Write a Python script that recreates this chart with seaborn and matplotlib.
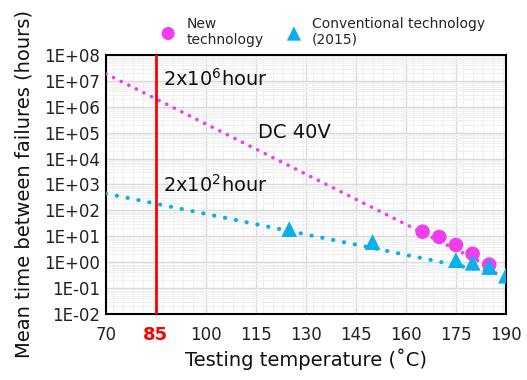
import numpy as np
import pandas as pd
import matplotlib
matplotlib.use('Agg')
import matplotlib.pyplot as plt
import seaborn as sns
from matplotlib.ticker import MultipleLocator, LogLocator, FixedLocator, NullFormatter

# data
new_temp = [165, 170, 175, 180, 185]
new_mtbf = [15, 9.4, 4.6, 2.1, 0.8]
conv_temp = [125, 150, 175, 180, 185, 190]
conv_mtbf = [19, 6.0, 1.2, 0.95, 0.65, 0.3]

# trend line end points
new_trend_x = [70, 186]
new_trend_y = [1.9e7, 0.6]
conv_trend_x = [70, 190.5]
conv_trend_y = [450, 0.3]

x_ticks = [70, 85, 100, 115, 130, 145, 160, 175, 190]
y_ticks = [1e-2, 1e-1, 1e0, 1e1, 1e2, 1e3, 1e4, 1e5, 1e6, 1e7, 1e8]
y_labels = ['1E-02', '1E-01', '1E+00', '1E+01', '1E+02', '1E+03',
            '1E+04', '1E+05', '1E+06', '1E+07', '1E+08']

magenta = '#f23cf0'
blue = '#0ab0ea'

sns.set_theme(style='white')
plt.rcParams['font.family'] = ['DejaVu Sans']

fig = plt.figure(figsize=(5.27, 3.8), dpi=100)
ax = fig.add_axes([0.201, 0.174, 0.759, 0.681])

df_new = pd.DataFrame({'temp': new_temp, 'mtbf': new_mtbf})
df_conv = pd.DataFrame({'temp': conv_temp, 'mtbf': conv_mtbf})

ax.plot(new_trend_x, new_trend_y, color=magenta, lw=2.6, ls=(0, (0.05, 2.3)),
        dash_capstyle='round', zorder=3)
ax.plot(conv_trend_x, conv_trend_y, color=blue, lw=3.0, ls=(0, (0.05, 2.6)),
        dash_capstyle='round', zorder=3)

sns.scatterplot(data=df_new, x='temp', y='mtbf', ax=ax, color=magenta, marker='o',
                s=110, edgecolor='none', zorder=4, label='New\ntechnology')
sns.scatterplot(data=df_conv, x='temp', y='mtbf', ax=ax, color=blue, marker='^',
                s=130, edgecolor='none', zorder=5, label='Conventional technology\n(2015)')

ax.axvline(85, color='#ff0000', lw=2, zorder=6)

ax.set_yscale('log')
ax.set_xlim(70, 190)
ax.set_ylim(1e-2, 1e8)
ax.xaxis.set_major_locator(FixedLocator(x_ticks))
ax.xaxis.set_minor_locator(MultipleLocator(3))
ax.set_yticks(y_ticks)
ax.set_yticklabels(y_labels)
ax.yaxis.set_minor_locator(LogLocator(base=10, subs=np.arange(2, 10), numticks=20))
ax.yaxis.set_minor_formatter(NullFormatter())
ax.set_xticklabels([str(t) for t in x_ticks])

ax.grid(True, which='major', color='#d9d9d9', lw=1)
ax.grid(True, which='minor', color='#f0f0f0', lw=0.8)
ax.set_axisbelow(True)
for s in ax.spines.values():
    s.set_color('black')
    s.set_linewidth(1.5)

ax.tick_params(axis='both', which='both', length=0, labelsize=12, colors='#222222')
ax.tick_params(axis='x', pad=9)
ax.tick_params(axis='y', pad=4)
for lbl in ax.get_xticklabels():
    if lbl.get_text() == '85':
        lbl.set_color('#ff0000')
        lbl.set_fontweight('bold')
        lbl.set_fontsize(13)

ax.set_xlabel('Testing temperature (˚C)', fontsize=14, color='#111111', labelpad=3)
ax.set_ylabel('Mean time between failures (hours)', fontsize=14, color='#111111', labelpad=8)

ax.text(87, 1.2e7, r'2x10$^{6}$hour', fontsize=14, va='center', ha='left', color='#111111')
ax.text(87, 1e3, r'2x10$^{2}$hour', fontsize=14, va='center', ha='left', color='#111111')
ax.text(115.5, 1e5, 'DC 40V', fontsize=14, va='center', ha='left', color='#111111')

ax.legend(loc='lower left', bbox_to_anchor=(0.1, 1.0), ncol=2, frameon=False,
          fontsize=10, handletextpad=0.3, columnspacing=1.2, borderaxespad=0.2,
          markerscale=0.9)

plt.savefig('out.png', dpi=100)
